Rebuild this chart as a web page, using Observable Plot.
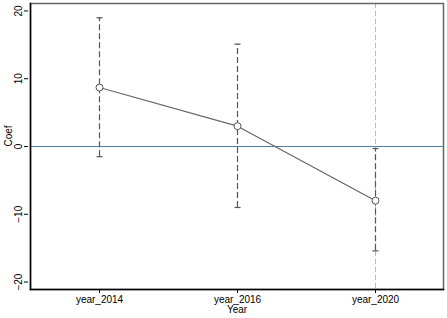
<!DOCTYPE html>
<html><head><meta charset="utf-8">
<script src="https://cdn.jsdelivr.net/npm/d3@7"></script>
<script src="https://cdn.jsdelivr.net/npm/@observablehq/plot@0.6"></script>
<style>body{margin:0;background:#fff;font-family:"Liberation Sans",Arial,sans-serif;}</style>
</head><body><div id="chart"></div>
<script>
const years = ["year_2014", "year_2016", "year_2020"];
const coef = [8.7, 3.0, -8.0];
const ciLow = [-1.5, -9.0, -15.4];
const ciHigh = [19.0, 15.1, -0.3];
const yTicks = [-20, -10, 0, 10, 20];
const refYear = "year_2020";

const data = years.map((y, i) => ({year: y, coef: coef[i], lo: ciLow[i], hi: ciHigh[i]}));
const capSymbol = {draw(ctx, size) { const r = Math.sqrt(size / Math.PI); ctx.moveTo(-r, 0); ctx.lineTo(r, 0); }};

const plot = Plot.plot({
  width: 447, height: 318,
  marginLeft: 30, marginRight: 4, marginTop: 3, marginBottom: 29,
  style: {fontFamily: "Liberation Sans, Arial, sans-serif", fontSize: "10px", background: "#fff", color: "#000"},
  x: {type: "point", domain: years, padding: 0.49, label: null},
  y: {domain: [-21.1, 21.1], label: null},
  marks: [
    Plot.ruleX([refYear], {stroke: "#a3c2b9", strokeDasharray: "5,3", strokeWidth: 1}),
    Plot.ruleY([0], {stroke: "#4f7d9c", strokeWidth: 1.2}),
    Plot.ruleX(data, {x: "year", y1: "lo", y2: "hi", stroke: "#555", strokeWidth: 1.2, strokeDasharray: "6,3"}),
    Plot.dot(data, {x: "year", y: "lo", symbol: capSymbol, r: 3, stroke: "#555", strokeWidth: 1.2}),
    Plot.dot(data, {x: "year", y: "hi", symbol: capSymbol, r: 3, stroke: "#555", strokeWidth: 1.2}),
    Plot.line(data, {x: "year", y: "coef", stroke: "#666", strokeWidth: 1.2}),
    Plot.dot(data, {x: "year", y: "coef", r: 3.5, stroke: "#555", fill: "#fff", strokeWidth: 1}),
    Plot.frame({stroke: "#666", strokeWidth: 1.5}),
    Plot.frame({anchor: "left", stroke: "#000", strokeWidth: 1.5}),
    Plot.frame({anchor: "bottom", stroke: "#000", strokeWidth: 1.5}),
    Plot.axisY({ticks: yTicks, tickSize: 4, tickRotate: -90, tickPadding: 3, label: null, textAnchor: "middle", dx: -2}),
    Plot.axisX({tickSize: 4, tickPadding: 2, label: null}),
    Plot.text(["Coef"], {frameAnchor: "left", dx: -22, rotate: -90, fontSize: 10}),
    Plot.text(["Year"], {frameAnchor: "bottom", dy: 23, fontSize: 10})
  ]
});
document.getElementById("chart").appendChild(plot);
</script></body></html>
